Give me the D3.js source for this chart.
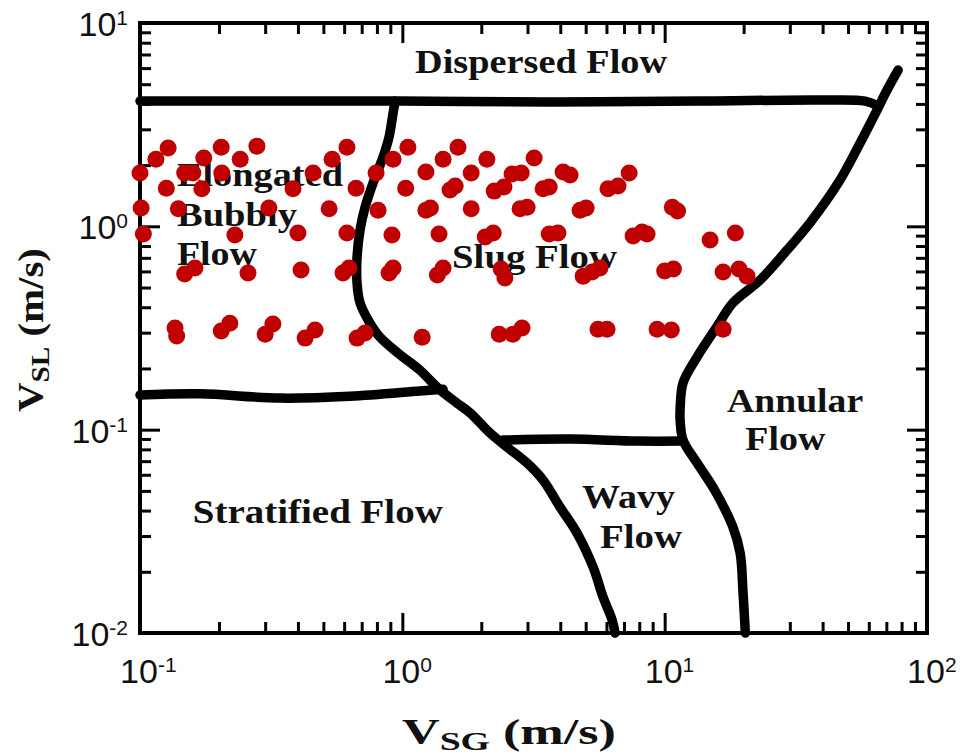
<!DOCTYPE html>
<html>
<head>
<meta charset="utf-8">
<script src="https://cdn.jsdelivr.net/npm/d3@7/dist/d3.min.js"></script>
<style>
  html, body { margin: 0; padding: 0; background: #fff; }
  svg { display: block; }
</style>
</head>
<body>
<svg id="chart" width="967" height="756"></svg>
<script>
// ---- Axis decades and tick labels ----
const xDecades = [0.1, 1, 10, 100];
const xExponents = ["-1", "0", "1", "2"];
const yDecades = [0.01, 0.1, 1, 10];
const yExponents = ["-2", "-1", "0", "1"];

// ---- Flow-regime transition boundaries, [VSG, VSL] in m/s ----
const dispersedBoundary = [
  [0.1, 4.13], [0.263, 4.13], [0.98, 4.13], [3.66, 4.09],
  [13.6, 4.13], [39.1, 4.18], [58.1, 4.13], [65.1, 3.91]
];
const bubblySlugBoundary = [
  [0.938, 4.13], [0.922, 3.61], [0.890, 2.75], [0.844, 2.19], [0.773, 1.63],
  [0.721, 1.24], [0.690, 0.959], [0.672, 0.706], [0.672, 0.526], [0.690, 0.420],
  [0.741, 0.346], [0.822, 0.285], [0.963, 0.238], [1.168, 0.196], [1.275, 0.175],
  [1.392, 0.157], [1.617, 0.135], [1.812, 0.121], [2.160, 0.0962], [2.506, 0.0821],
  [2.988, 0.0685], [3.439, 0.0565], [3.993, 0.0416], [4.634, 0.0310], [5.335, 0.0211],
  [5.825, 0.0150], [6.302, 0.0116], [6.470, 0.0100]
];
const stratifiedBoundary = [
  [0.1, 0.148], [0.169, 0.150], [0.342, 0.143], [0.632, 0.146], [1.168, 0.155], [1.43, 0.158]
];
const wavyBoundary = [
  [2.42, 0.0889], [4.36, 0.0899], [7.85, 0.0879], [11.75, 0.0879]
];
const annularBoundary = [
  [77.6, 5.87], [70.4, 4.68], [64.5, 3.73], [55.6, 2.57], [46.6, 1.69],
  [35.8, 1.04], [29.3, 0.765], [23.1, 0.544], [18.2, 0.420], [15.8, 0.320],
  [13.3, 0.228], [11.75, 0.170], [11.45, 0.125], [11.45, 0.112], [11.75, 0.0889],
  [13.3, 0.0685], [15.5, 0.0505], [18.2, 0.0332], [19.4, 0.0247], [19.9, 0.0157],
  [20.3, 0.0100]
];

// ---- Experimental test points ----
const pointVsg = [
  0.128, 0.204, 0.279, 0.615, 1.05, 1.63,
  0.115, 0.175, 0.241, 0.540, 0.922, 1.43, 2.10, 3.18,
  0.100, 0.148, 0.159, 0.205, 0.457, 0.794, 1.23, 1.83, 2.62, 2.84, 4.10, 4.36, 7.32,
  0.126, 0.172, 0.383, 0.666, 1.03, 1.52, 1.59, 2.24, 2.44, 3.44, 3.63, 6.08, 6.64,
  0.101, 0.140, 0.310, 0.526, 0.808, 1.23, 1.28, 1.83, 2.81, 2.99, 4.76, 5.02, 10.7, 11.2,
  0.103, 0.230, 0.400, 0.615, 0.913, 1.38, 2.07, 2.22, 3.63, 3.92, 7.58, 8.20, 8.57, 14.9, 18.6,
  0.148, 0.162, 0.258, 0.411, 0.594, 0.626, 0.890, 0.922, 1.36, 1.43, 2.38, 2.46, 4.89, 5.29, 5.67, 10.0, 10.8, 16.7, 19.2, 20.6,
  0.136, 0.138, 0.204, 0.220, 0.300, 0.321, 0.426, 0.465, 0.672, 0.721, 1.19, 2.34, 2.64, 2.86, 5.57, 6.03, 9.36, 10.6, 16.7
];
const pointVsl = [
  2.43, 2.45, 2.48, 2.45, 2.45, 2.45,
  2.14, 2.17, 2.14, 2.14, 2.14, 2.14, 2.14, 2.17,
  1.83, 1.83, 1.83, 1.83, 1.83, 1.83, 1.85, 1.83, 1.81, 1.83, 1.85, 1.79, 1.83,
  1.54, 1.53, 1.53, 1.54, 1.54, 1.51, 1.58, 1.49, 1.56, 1.53, 1.56, 1.53, 1.58,
  1.23, 1.22, 1.23, 1.22, 1.20, 1.20, 1.23, 1.22, 1.22, 1.24, 1.20, 1.23, 1.24, 1.19,
  0.917, 0.906, 0.927, 0.927, 0.906, 0.917, 0.886, 0.927, 0.917, 0.927, 0.896, 0.938, 0.917, 0.856, 0.927,
  0.583, 0.624, 0.589, 0.610, 0.589, 0.624, 0.589, 0.624, 0.576, 0.624, 0.617, 0.557, 0.569, 0.596, 0.624, 0.603, 0.617, 0.596, 0.617, 0.569,
  0.316, 0.289, 0.306, 0.334, 0.295, 0.331, 0.282, 0.309, 0.282, 0.299, 0.285, 0.295, 0.295, 0.316, 0.312, 0.312, 0.312, 0.309, 0.312
];

// ---- Regime names (one entry per text line) ----
const regionLines = [
  "Dispersed Flow",
  "Elongated", "Bubbly", "Flow",
  "Slug Flow",
  "Annular", "Flow",
  "Stratified Flow",
  "Wavy", "Flow"
];

// ---------------------------------------------------------------
const svg = d3.select("#chart");
const plot = { left: 140, right: 927, top: 23, bottom: 633 };

const x = d3.scaleLog().domain([0.1, 100]).range([plot.left, plot.right]);
const y = d3.scaleLog().domain([0.01, 10]).range([plot.bottom, plot.top]);

// minor ticks 2..9 within each decade
function minorTicks(decades) {
  const out = [];
  decades.slice(0, -1).forEach(d => { for (let k = 2; k <= 9; k++) out.push(d * k); });
  return out;
}
const xMinor = minorTicks(xDecades);
const yMinor = minorTicks(yDecades);

const MAJOR = 20, MINOR = 11;

function addAxis(gen, transform, values, len) {
  svg.append("g")
    .attr("transform", transform)
    .call(gen.tickValues(values).tickSize(-len).tickSizeOuter(0).tickFormat(""))
    .call(g => g.select(".domain").remove())
    .call(g => g.selectAll(".tick line").attr("stroke", "#000").attr("stroke-width", 3));
}
addAxis(d3.axisBottom(x), `translate(0,${plot.bottom})`, xMinor, MINOR);
addAxis(d3.axisBottom(x), `translate(0,${plot.bottom})`, xDecades, MAJOR);
addAxis(d3.axisTop(x), `translate(0,${plot.top})`, xMinor, MINOR);
addAxis(d3.axisTop(x), `translate(0,${plot.top})`, xDecades, MAJOR);
addAxis(d3.axisLeft(y), `translate(${plot.left},0)`, yMinor, MINOR);
addAxis(d3.axisLeft(y), `translate(${plot.left},0)`, yDecades, MAJOR);
addAxis(d3.axisRight(y), `translate(${plot.right},0)`, yMinor, MINOR);
addAxis(d3.axisRight(y), `translate(${plot.right},0)`, yDecades, MAJOR);

// frame
svg.append("rect")
  .attr("x", plot.left).attr("y", plot.top)
  .attr("width", plot.right - plot.left).attr("height", plot.bottom - plot.top)
  .attr("fill", "none").attr("stroke", "#000").attr("stroke-width", 4);

// ---- tick labels: 10 with superscript exponent ----
const tickFont = "'Liberation Sans', Arial, sans-serif";
const probe = svg.append("text").attr("font-family", tickFont).attr("font-size", 34).text("10");
const tenWidth = probe.node().getComputedTextLength();
probe.remove();

function sci(sel, exp) {
  sel.append("tspan").text("10");
  sel.append("tspan").attr("dy", -11).attr("font-size", 21).text(exp);
}

xDecades.forEach((v, i) => {
  svg.append("text")
    .attr("x", x(v) - tenWidth / 2 - 1)
    .attr("y", 683)
    .attr("font-family", tickFont).attr("font-size", 34).attr("fill", "#111")
    .call(sci, xExponents[i]);
});
yDecades.forEach((v, i) => {
  svg.append("text")
    .attr("x", 128)
    .attr("y", y(v) + 13)
    .attr("text-anchor", "end")
    .attr("font-family", tickFont).attr("font-size", 34).attr("fill", "#111")
    .call(sci, yExponents[i]);
});

// ---- boundaries ----
const line = d3.line()
  .x(d => x(d[0])).y(d => y(d[1]))
  .curve(d3.curveCatmullRom.alpha(0.5));

const boundaries = svg.append("g")
  .attr("fill", "none").attr("stroke", "#000")
  .attr("stroke-width", 9.5).attr("stroke-linecap", "round").attr("stroke-linejoin", "round");
[dispersedBoundary, bubblySlugBoundary, stratifiedBoundary, wavyBoundary, annularBoundary]
  .forEach(b => boundaries.append("path").attr("d", line(b)));

// ---- regime labels ----
const serif = "'Liberation Serif', 'Times New Roman', serif";
// anchor (VSG, VSL) of each line's start / middle, and its drawn width
const regionLayout = [
  { vsg: 3.38,   vsl: 5.68,   anchor: "middle", w: 252 },
  { vsg: 0.1383, vsl: 1.578,  anchor: "start",  w: 166 },
  { vsg: 0.1383, vsl: 1.003,  anchor: "start",  w: 120 },
  { vsg: 0.1383, vsl: 0.645,  anchor: "start",  w: 80 },
  { vsg: 1.547,  vsl: 0.6236, anchor: "start",  w: 165 },
  { vsg: 17.3,   vsl: 0.122,  anchor: "start",  w: 136 },
  { vsg: 20.3,   vsl: 0.0794, anchor: "start",  w: 80 },
  { vsg: 0.159,  vsl: 0.0347, anchor: "start",  w: 250 },
  { vsg: 4.84,   vsl: 0.0412, anchor: "start",  w: 93 },
  { vsg: 5.67,   vsl: 0.0262, anchor: "start",  w: 82 }
];
svg.append("g").selectAll("text")
  .data(regionLines)
  .join("text")
  .attr("x", (d, i) => x(regionLayout[i].vsg))
  .attr("y", (d, i) => y(regionLayout[i].vsl))
  .attr("text-anchor", (d, i) => regionLayout[i].anchor)
  .attr("textLength", (d, i) => regionLayout[i].w)
  .attr("lengthAdjust", "spacingAndGlyphs")
  .attr("font-family", serif).attr("font-weight", "bold").attr("font-size", 33)
  .attr("fill", "#111")
  .text(d => d);

// ---- test points ----
svg.append("g").selectAll("circle")
  .data(pointVsg.map((v, i) => [v, pointVsl[i]]))
  .join("circle")
  .attr("cx", d => x(d[0]))
  .attr("cy", d => y(d[1]))
  .attr("r", 8.5)
  .attr("fill", "#c00000");

// ---- axis titles ----
const xTitle = svg.append("text")
  .attr("x", 402).attr("y", 744)
  .attr("textLength", 214).attr("lengthAdjust", "spacingAndGlyphs")
  .attr("font-family", serif).attr("font-weight", "bold").attr("font-size", 36).attr("fill", "#111");
xTitle.append("tspan").text("V");
xTitle.append("tspan").attr("font-size", 26).attr("dy", 6).text("SG");
xTitle.append("tspan").attr("dy", -6).text(" (m/s)");

const yTitle = svg.append("text")
  .attr("transform", "translate(43,412) rotate(-90)")
  .attr("textLength", 164).attr("lengthAdjust", "spacingAndGlyphs")
  .attr("font-family", serif).attr("font-weight", "bold").attr("font-size", 35).attr("fill", "#111");
yTitle.append("tspan").text("V");
yTitle.append("tspan").attr("font-size", 25).attr("dy", 6).text("SL");
yTitle.append("tspan").attr("dy", -6).text(" (m/s)");
</script>
</body>
</html>
